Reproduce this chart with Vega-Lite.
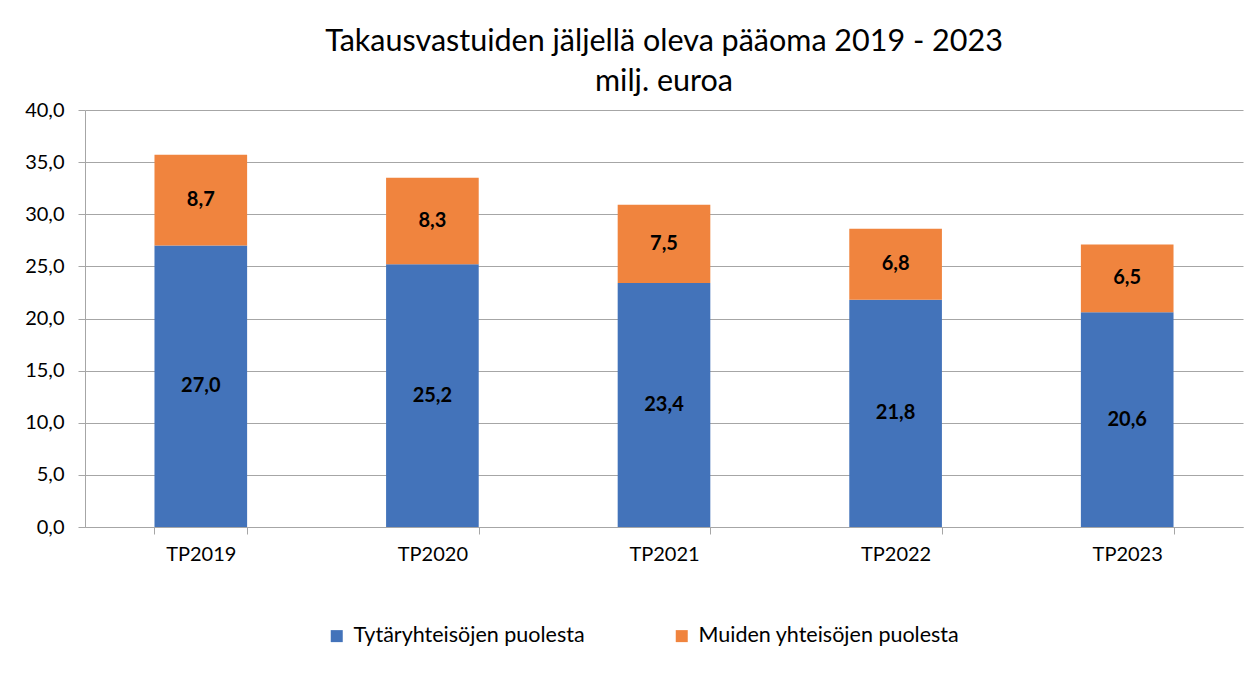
{
  "$schema": "https://vega.github.io/schema/vega-lite/v6.json",
  "width": 1158,
  "height": 417,
  "padding": {"left": 24, "top": 26, "right": 10, "bottom": 10},
  "background": "white",
  "config": {
    "font": "Lato",
    "locale": {"number": {"decimal": ",", "thousands": " ", "grouping": [3], "currency": ["", " €"]}},
    "view": {"stroke": null}
  },
  "title": {
    "text": ["Takausvastuiden jäljellä oleva pääoma 2019 - 2023", "milj. euroa"],
    "fontSize": 30.5,
    "fontWeight": "normal",
    "font": "Lato",
    "color": "#000000",
    "lineHeight": 40,
    "anchor": "middle",
    "offset": 3
  },
  "data": {
    "values": [
      {"year": "TP2019", "series": "Tytäryhteisöjen puolesta", "order": 1, "value": 27.0},
      {"year": "TP2019", "series": "Muiden yhteisöjen puolesta", "order": 2, "value": 8.7},
      {"year": "TP2020", "series": "Tytäryhteisöjen puolesta", "order": 1, "value": 25.2},
      {"year": "TP2020", "series": "Muiden yhteisöjen puolesta", "order": 2, "value": 8.3},
      {"year": "TP2021", "series": "Tytäryhteisöjen puolesta", "order": 1, "value": 23.4},
      {"year": "TP2021", "series": "Muiden yhteisöjen puolesta", "order": 2, "value": 7.5},
      {"year": "TP2022", "series": "Tytäryhteisöjen puolesta", "order": 1, "value": 21.8},
      {"year": "TP2022", "series": "Muiden yhteisöjen puolesta", "order": 2, "value": 6.8},
      {"year": "TP2023", "series": "Tytäryhteisöjen puolesta", "order": 1, "value": 20.6},
      {"year": "TP2023", "series": "Muiden yhteisöjen puolesta", "order": 2, "value": 6.5}
    ]
  },
  "transform": [
    {"stack": "value", "groupby": ["year"], "sort": [{"field": "order"}], "as": ["v0", "v1"]},
    {"calculate": "(datum.v0 + datum.v1) / 2", "as": "mid"}
  ],
  "encoding": {
    "x": {
      "field": "year",
      "type": "nominal",
      "title": null,
      "scale": {"paddingInner": 0.6, "paddingOuter": 0.3},
      "axis": {
        "labelAngle": 0,
        "labelFontSize": 20,
        "labelColor": "#000000",
        "labelPadding": 10,
        "tickBand": "extent",
        "tickSize": 7,
        "tickColor": "#a6a6a6",
        "domainColor": "#a6a6a6",
        "grid": false
      }
    }
  },
  "layer": [
    {
      "mark": {"type": "bar"},
      "encoding": {
        "y": {
          "field": "v0",
          "type": "quantitative",
          "title": null,
          "scale": {"domain": [0, 40]},
          "axis": {
            "values": [0, 5, 10, 15, 20, 25, 30, 35, 40],
            "format": ".1f",
            "labelFontSize": 20,
            "labelColor": "#000000",
            "labelPadding": 14,
            "tickSize": 7,
            "tickColor": "#a6a6a6",
            "domainColor": "#a6a6a6",
            "gridColor": "#a6a6a6",
            "gridWidth": 1
          }
        },
        "y2": {"field": "v1"},
        "color": {
          "field": "series",
          "type": "nominal",
          "scale": {
            "domain": ["Tytäryhteisöjen puolesta", "Muiden yhteisöjen puolesta"],
            "range": ["#4373BA", "#F0843E"]
          },
          "legend": {
            "title": null,
            "orient": "none",
            "legendX": 241,
            "legendY": 515,
            "direction": "horizontal",
            "symbolType": "square",
            "symbolSize": 144,
            "symbolStrokeWidth": 0,
            "labelFontSize": 21.5,
            "labelLimit": 500,
            "labelOffset": 6,
            "labelColor": "#000000",
            "columnPadding": 86
          }
        }
      }
    },
    {
      "mark": {"type": "text", "fontSize": 20, "fontWeight": "bold", "color": "#000000", "baseline": "middle"},
      "encoding": {
        "y": {"field": "mid", "type": "quantitative"},
        "text": {"field": "value", "type": "quantitative", "format": ".1f"}
      }
    }
  ]
}
